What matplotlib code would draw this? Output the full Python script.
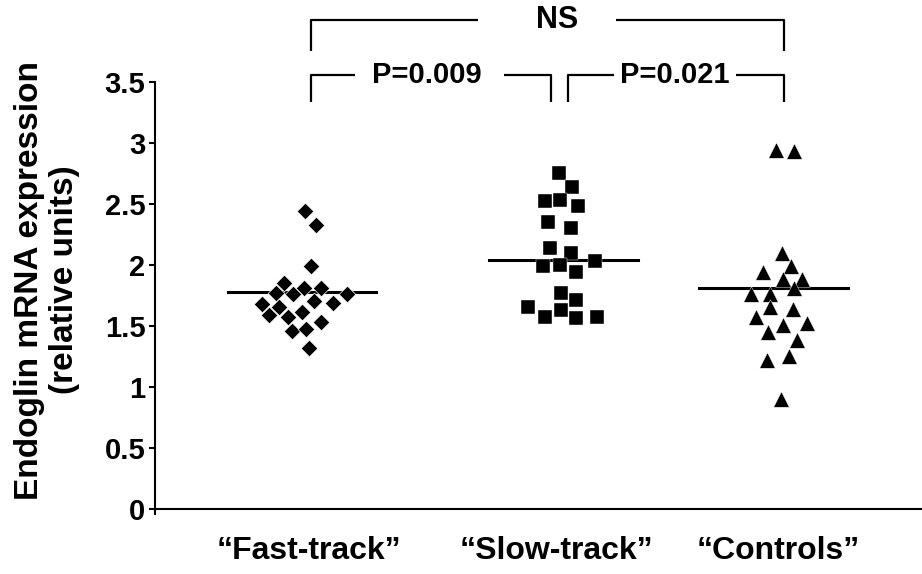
import numpy as np
import matplotlib
matplotlib.use("Agg")
import matplotlib.pyplot as plt

plt.rcParams['font.family'] = ['Liberation Sans', 'DejaVu Sans']
plt.rcParams['font.weight'] = 'bold'

# groups
groups = ['\u201cFast-track\u201d', '\u201cSlow-track\u201d', '\u201cControls\u201d']
label_pos = [0.642, 1.673, 2.60]

# values (x = horizontal spread inside each group)
fast_x = [0.625, 0.671, 0.649, 0.539, 0.621, 0.692, 0.799, 0.504, 0.574, 0.663,
          0.743, 0.445, 0.518, 0.475, 0.614, 0.555, 0.692, 0.570, 0.629, 0.642]
fast_y = [2.44, 2.33, 1.99, 1.85, 1.81, 1.81, 1.76, 1.77, 1.76, 1.70,
          1.69, 1.68, 1.65, 1.59, 1.61, 1.57, 1.53, 1.46, 1.47, 1.32]

slow_x = [1.685, 1.740, 1.626, 1.688, 1.765, 1.640, 1.735, 1.649, 1.736, 1.835,
          1.618, 1.688, 1.757, 1.695, 1.757, 1.557, 1.695, 1.626, 1.757, 1.843]
slow_y = [2.75, 2.64, 2.52, 2.53, 2.48, 2.35, 2.30, 2.14, 2.10, 2.03,
          1.99, 2.00, 1.94, 1.77, 1.71, 1.65, 1.63, 1.57, 1.56, 1.57]

ctrl_x = [2.590, 2.667, 2.614, 2.654, 2.535, 2.621, 2.701, 2.667, 2.486, 2.565,
          2.565, 2.660, 2.507, 2.621, 2.718, 2.559, 2.680, 2.643, 2.555, 2.611]
ctrl_y = [2.94, 2.93, 2.10, 1.99, 1.94, 1.88, 1.88, 1.81, 1.76, 1.76,
          1.65, 1.64, 1.57, 1.51, 1.52, 1.45, 1.38, 1.25, 1.22, 0.90]

# horizontal lines through each group
line_centers = [0.613, 1.705, 2.58]
line_values = [1.78, 2.04, 1.81]
line_half = 0.31

fig = plt.figure(figsize=(9.22, 5.74), dpi=100)
ax = fig.add_axes([0.1681, 0.1045, 0.832, 0.7526])

ax.scatter(fast_x, fast_y, marker='D', s=72, c='black', edgecolors='white', linewidths=0.5, zorder=3)
ax.scatter(slow_x, slow_y, marker='s', s=92, c='black', edgecolors='white', linewidths=0.3, zorder=3)
ax.scatter(ctrl_x, ctrl_y, marker='^', s=125, c='black', edgecolors='white', linewidths=0.3, zorder=3)

for xc, v in zip(line_centers, line_values):
    ax.plot([xc - line_half, xc + line_half], [v, v], color='black', lw=2.2, zorder=2)

ax.set_xlim(0, 3.2)
ax.set_ylim(-0.045, 3.5)
ax.spines['bottom'].set_position(('data', 0))
ax.spines['top'].set_visible(False)
ax.spines['right'].set_visible(False)
for sp in ['left', 'bottom']:
    ax.spines[sp].set_linewidth(1.5)

ax.set_yticks([0, 0.5, 1, 1.5, 2, 2.5, 3, 3.5])
ax.set_yticklabels(['0', '0.5', '1', '1.5', '2', '2.5', '3', '3.5'])
ax.tick_params(axis='y', direction='out', length=4, width=1.5, labelsize=21, pad=3)
ax.set_xticks(label_pos)
ax.set_xticklabels(groups)
ax.tick_params(axis='x', length=0, labelsize=23, pad=20)
for t in ax.get_xticklabels() + ax.get_yticklabels():
    t.set_fontweight('bold')

fig.text(0.051, 0.512, 'Endoglin mRNA expression\n(relative units)', rotation=90,
         ha='center', va='center', multialignment='center', fontsize=24,
         fontweight='bold', linespacing=1.15)

# significance brackets
kw = dict(color='black', lw=1.6, clip_on=False, solid_capstyle='butt')
ax.plot([0.651, 0.651, 1.346], [3.754, 4.005, 4.005], **kw)
ax.plot([1.925, 2.624, 2.624], [4.005, 4.005, 3.754], **kw)
ax.text(1.679, 4.005, 'NS', ha='center', va='center', fontsize=22, fontweight='bold')

ax.plot([0.651, 0.651, 0.833], [3.333, 3.56, 3.56], **kw)
ax.plot([1.454, 1.652, 1.652], [3.56, 3.56, 3.333], **kw)
ax.text(1.133, 3.56, 'P=0.009', ha='center', va='center', fontsize=21, fontweight='bold')

ax.plot([1.723, 1.723, 1.913], [3.333, 3.56, 3.56], **kw)
ax.plot([2.425, 2.624, 2.624], [3.56, 3.56, 3.333], **kw)
ax.text(2.168, 3.56, 'P=0.021', ha='center', va='center', fontsize=21, fontweight='bold')

fig.savefig('out.png', dpi=100)
